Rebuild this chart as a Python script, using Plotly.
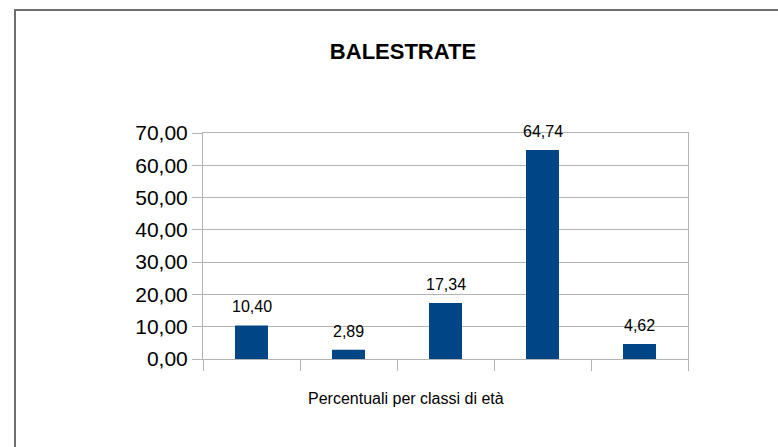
import plotly.graph_objects as go

categories = ["0-14", "15-19", "20-24", "25-64", "65+"]
values = [10.40, 2.89, 17.34, 64.74, 4.62]
title_text = "BALESTRATE"
x_title = "Percentuali per classi di età"

W, H = 778, 447
# target screen positions of the plot area
SX0, SX1, SY0, SY1 = 203, 688, 133, 359
L, R = SX0, W - SX1
T, B = SY0, H - SY1
pw, ph = W - L - R, H - T - B

def px_x(x):
    return (x - L) / pw

def px_y(y):
    return (H - B - y) / ph

fig = go.Figure(go.Bar(
    x=categories, y=values,
    marker=dict(color="#004586", line=dict(width=0)),
    hoverinfo="x+y",
))

for c, v in zip(categories, values):
    fig.add_annotation(x=c, y=v, xref="x", yref="y", text=f"{v:.2f}".replace(".", ","),
                       showarrow=False, yanchor="middle", yshift=18.5,
                       font=dict(size=16, family="Liberation Sans", color="#000000"))

fig.update_layout(
    width=W, height=H,
    margin=dict(l=L, r=R, t=T, b=B),
    paper_bgcolor="white", plot_bgcolor="white",
    separators=",.",
    bargap=0.66,
    showlegend=False,
    font=dict(family="Liberation Sans", color="#000000"),
    title=dict(text="<b>" + title_text + "</b>", x=403 / W, xanchor="center",
               y=1 - 51 / H, yanchor="middle", yref="container", xref="container",
               font=dict(size=22, family="Liberation Sans", color="#000000")),
)

fig.update_xaxes(
    showticklabels=False, tickson="boundaries", ticks="outside", ticklen=11,
    tickcolor="#b3b3b3", tickwidth=1,
    showline=True, linecolor="#b3b3b3", linewidth=1, mirror=True,
    showgrid=False,
)
fig.update_yaxes(
    range=[0, 70], dtick=10, tickformat=".2f",
    ticks="outside", ticklen=10, tickcolor="#b3b3b3",
    showline=True, linecolor="#b3b3b3", linewidth=1, mirror=True,
    showgrid=True, gridcolor="#b3b3b3", gridwidth=1,
    tickfont=dict(size=21, family="Liberation Sans", color="#000000"),
    zeroline=False,
)

fig.add_annotation(text=x_title, xref="paper", yref="paper",
                   x=px_x(406), y=px_y(398), showarrow=False,
                   xanchor="center", yanchor="middle",
                   font=dict(size=16, family="Liberation Sans", color="#000000"))

fig.add_shape(type="path", xref="paper", yref="paper",
              path=f"M {px_x(15)} {px_y(447)} L {px_x(15)} {px_y(10)} L {px_x(778)} {px_y(10)}",
              line=dict(color="#6e6e6e", width=2))

fig.write_html("out.html", config={"displayModeBar": False},
               post_script="document.body.style.margin='0';document.body.style.overflow='hidden';")
